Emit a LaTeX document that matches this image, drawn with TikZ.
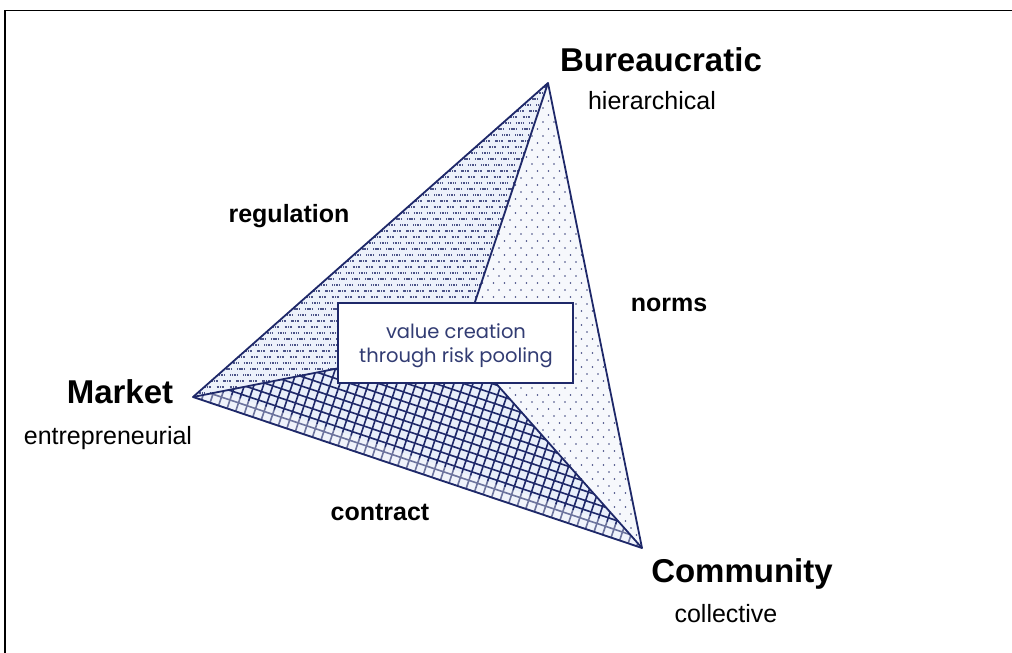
\documentclass[tikz,border=0pt]{standalone}
\usepackage{fontspec}
\setmainfont{Liberation Sans}
\newfontfamily\boxfont{Poppins}
\definecolor{navy}{RGB}{30,40,105}
\definecolor{boxtext}{RGB}{50,60,115}
\definecolor{leftbg}{RGB}{236,241,250}
\definecolor{rightbg}{RGB}{246,248,252}
\definecolor{gridbg}{RGB}{232,238,250}
\tikzset{
  edge/.style={draw=navy, line width=1.8pt, line join=round},
  dashmark/.style={draw=navy!80, line width=1.5pt, dash pattern=on 1.1pt off 0.6pt},
  dotmark/.style={fill=navy!85},
  gridline/.style={draw=navy, line width=1.6pt},
  biglabel/.style={inner sep=0pt, font=\bfseries\fontsize{33}{36}\selectfont},
  sublabel/.style={inner sep=0pt, font=\fontsize{25}{28}\selectfont},
  edgelabel/.style={inner sep=0pt, font=\bfseries\fontsize{25}{28}\selectfont},
  valuebox/.style={draw=navy, line width=1.2pt, fill=white, minimum width=235pt, minimum height=80pt},
  valuetext/.style={inner sep=0pt, align=center, text=boxtext, font=\boxfont\fontsize{19.5}{24}\selectfont},
}
\begin{document}
\begin{tikzpicture}[x=1pt,y=-1pt]
\useasboundingbox (0,0) rectangle (1012,653);
\fill[white] (0,0) rectangle (1012,653);
% frame
\draw[black, line width=1.6pt] (5,1000) -- (5,10.5) -- (1100,10.5);

\coordinate (M) at (193,397);
\coordinate (B) at (548,83);
\coordinate (C) at (642,548);
\coordinate (P) at (461,344);

% left region: dashes
\begin{scope}
\clip (M)--(B)--(P)--cycle;
\fill[leftbg] (M)--(B)--(P)--cycle;
\foreach \i in {-1,...,20}{
  \foreach \j in {-1,...,54}{
    \draw[dashmark] ({190+\i*13+\j*6.8},{399-\j*6})  -- ++(7,0);
  }
}
\end{scope}

% right region: dots
\begin{scope}
\clip (B)--(C)--(P)--cycle;
\fill[rightbg] (B)--(C)--(P)--cycle;
\foreach \j in {0,...,68}{
  \foreach \i in {0,...,18}{
    \fill[dotmark] ({455+\i*11+mod(\j,2)*5.5},{80+\j*7}) circle (0.9);
  }
}
\end{scope}

% bottom region: grid
\begin{scope}
\clip (M)--(P)--(C)--cycle;
\fill[gridbg] (M)--(P)--(C)--cycle;
\foreach \k in {0,...,16}{
  \draw[gridline] ({193+\k*9*0.319-50*0.948},{397-\k*9*0.948-50*0.319}) -- ++({580*0.948},{580*0.319});
}
\foreach \k in {-6,...,56}{
  \draw[gridline] ({193+\k*9*0.948-20*0.319},{397+\k*9*0.319+20*0.948}) -- ++({180*0.319},{-180*0.948});
}
\draw[white, opacity=0.35, line width=14pt] (195.2,390.4) -- (644.2,541.4);
\end{scope}

% edges
\draw[edge] (M) -- (B) -- (C) -- cycle;
\draw[edge] (B) -- (P);
\draw[edge] (M) -- (P);
\draw[edge] (C) -- (P);

% centre box
\node[valuebox] (box) at (455.5,343) {};
\node[valuetext] (boxlabel) at (456,346) {value creation\\through risk pooling};

% labels
\node[biglabel] (bur) at (661,60) {Bureaucratic};
\node[sublabel] (hier) at (652,101) {hierarchical};
\node[biglabel] (mkt) at (120,392) {Market};
\node[sublabel] (entr) at (108,438) {entrepreneurial};
\node[biglabel] (com) at (742,574) {Community};
\node[sublabel] (coll) at (726,614) {collective};
\node[edgelabel] (reg) at (289,216) {regulation};
\node[edgelabel] (norms) at (669,305) {norms};
\node[edgelabel] (contr) at (380,512) {contract};
\end{tikzpicture}
\end{document}
